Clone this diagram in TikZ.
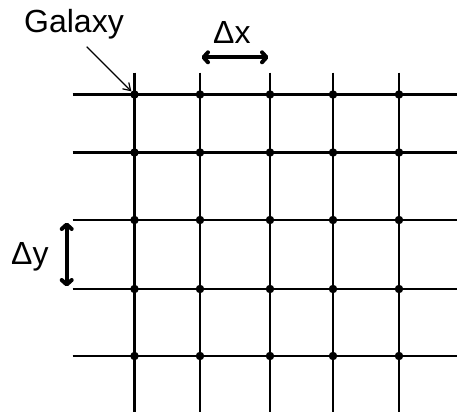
\documentclass[tikz,border=0pt]{standalone}
\usepackage{fontspec}
\setmainfont{Liberation Sans}
\usetikzlibrary{arrows.meta}
\begin{document}
\begin{tikzpicture}[x=1pt,y=-1pt,
  gridline/.style={line width=2.6pt},
  galaxy/.style={circle,fill=black,inner sep=0pt,minimum size=8.5pt},
  lbl/.style={font=\fontsize{32}{38}\selectfont,inner sep=0pt,anchor=base west},
  dimarrow/.style={line width=4pt,{Straight Barb[length=4.5pt,width=10pt,round]}-{Straight Barb[length=4.5pt,width=10pt,round]}},
  ptr/.style={line width=1.2pt,-{Straight Barb[length=7pt,width=9pt]}}]
\useasboundingbox (0,0) rectangle (457,415);
% grid positions
\def\xs{134.5/1,200/2,270/3,333/4,399/5}
\def\ys{94.5/1,152.5/2,220/3,289/4,356/5}
% vertical lines
\foreach \x/\i in \xs {
  \coordinate (vt\i) at (\x,72.7);
  \coordinate (vb\i) at (\x,412);
  \draw[gridline] (vt\i) -- (vb\i);
}
% horizontal lines
\foreach \y/\j in \ys {
  \coordinate (hl\j) at (72.7,\y);
  \coordinate (hr\j) at (457,\y);
  \draw[gridline] (hl\j) -- (hr\j);
}
% galaxies
\foreach \x/\i in \xs {
  \foreach \y/\j in \ys {
    \node[galaxy] (g\i\j) at (\x,\y) {};
  }
}
% labels
\node[lbl] (galaxylbl) at (24,32) {Galaxy};
\node[lbl] (dxlbl) at (213,43) {Δx};
\node[lbl] (dylbl) at (11,264) {Δy};
% pointer
\coordinate (ptrstart) at (86.7,46.7);
\draw[ptr] (ptrstart) -- (g11);
% dimension arrows
\coordinate (dxl) at (201.5,57.3);
\coordinate (dxr) at (268.5,57.3);
\draw[dimarrow] (dxl) -- (dxr);
\coordinate (dyt) at (66.7,222.5);
\coordinate (dyb) at (66.7,286.5);
\draw[dimarrow] (dyt) -- (dyb);
\end{tikzpicture}
\end{document}
